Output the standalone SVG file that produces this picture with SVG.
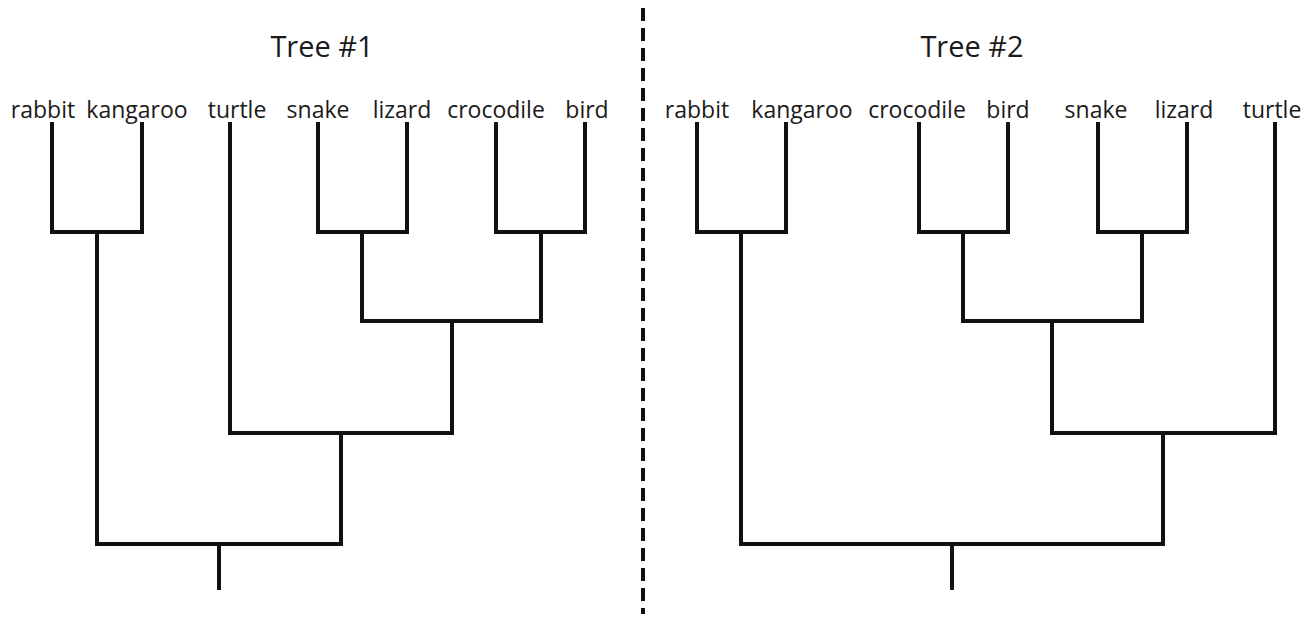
<svg xmlns="http://www.w3.org/2000/svg" width="1314" height="617" viewBox="0 0 1314 617">
<style>
.bg{fill:#ffffff}
.lbl{font-family:"Open Sans","Liberation Sans",sans-serif;font-size:23px;fill:#1a1a1a;text-anchor:middle}
.ttl{font-family:"Open Sans","Liberation Sans",sans-serif;font-size:29px;fill:#1a1a1a;text-anchor:middle}
.br{fill:none;stroke:#111111;stroke-width:4;stroke-linecap:square;stroke-linejoin:miter}
.div{stroke:#111111;stroke-width:4;stroke-dasharray:13 7}
</style>
<rect class="bg" x="0" y="0" width="1314" height="617"/>
<g id="titles">
<text id="title1" class="ttl" x="322" y="57">Tree #1</text>
<text id="title2" class="ttl" x="972" y="57">Tree #2</text>
</g>
<g id="tree1-labels">
<text id="t1-rabbit" class="lbl" x="43" y="118">rabbit</text>
<text id="t1-kangaroo" class="lbl" x="137" y="118">kangaroo</text>
<text id="t1-turtle" class="lbl" x="237" y="118">turtle</text>
<text id="t1-snake" class="lbl" x="318" y="118">snake</text>
<text id="t1-lizard" class="lbl" x="402" y="118">lizard</text>
<text id="t1-crocodile" class="lbl" x="496" y="118">crocodile</text>
<text id="t1-bird" class="lbl" x="587" y="118">bird</text>
</g>
<g id="tree2-labels">
<text id="t2-rabbit" class="lbl" x="697" y="118">rabbit</text>
<text id="t2-kangaroo" class="lbl" x="802" y="118">kangaroo</text>
<text id="t2-crocodile" class="lbl" x="917" y="118">crocodile</text>
<text id="t2-bird" class="lbl" x="1008" y="118">bird</text>
<text id="t2-snake" class="lbl" x="1096" y="118">snake</text>
<text id="t2-lizard" class="lbl" x="1184" y="118">lizard</text>
<text id="t2-turtle" class="lbl" x="1272" y="118">turtle</text>
</g>
<g id="connectors">
<g id="tree1-branches">
<path class="br" d="M52 124 V232 H142 V124"/>
<path class="br" d="M318 124 V232 H407 V124"/>
<path class="br" d="M496 124 V232 H585 V124"/>
<path class="br" d="M362 232 V321 H541 V232"/>
<path class="br" d="M230 124 V433 H452 V321"/>
<path class="br" d="M97 232 V544 H341 V433"/>
<path class="br" d="M219 544 V588"/>
</g>
<g id="tree2-branches">
<path class="br" d="M697 124 V232 H786 V124"/>
<path class="br" d="M919 124 V232 H1008 V124"/>
<path class="br" d="M1098 124 V232 H1187 V124"/>
<path class="br" d="M963 232 V321 H1142 V232"/>
<path class="br" d="M1052 321 V433 H1275 V124"/>
<path class="br" d="M741 232 V544 H1163 V433"/>
<path class="br" d="M952 544 V588"/>
</g>
<line id="divider" class="div" x1="643" y1="8" x2="643" y2="614"/>
</g>
</svg>
